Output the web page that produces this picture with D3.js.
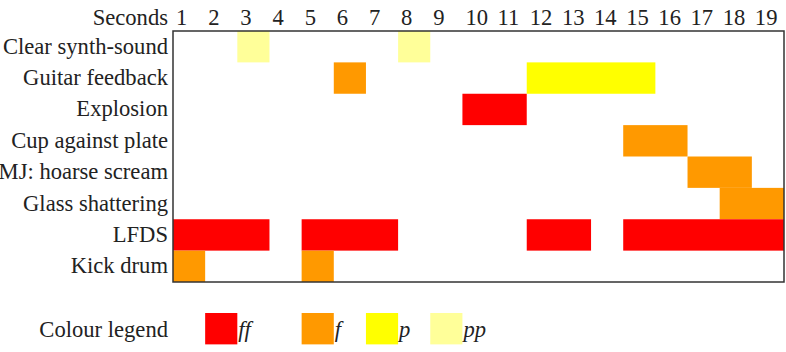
<!DOCTYPE html>
<html>
<head>
    <meta charset="UTF-8">
    <script src="https://d3js.org/d3.v7.min.js"></script>
</head>
<body style="margin:0">
    <svg width="786" height="352"></svg>
    <script>
        const seconds = d3.range(1, 20);
        const sounds = ["Clear synth-sound", "Guitar feedback", "Explosion", "Cup against plate",
                        "MJ: hoarse scream", "Glass shattering", "LFDS", "Kick drum"];
        const levels = ["ff", "f", "p", "pp"];
        const levelColours = ["#ff0000", "#ff9900", "#ffff00", "#ffff99"];
        // [sound, first second, last second, dynamic]
        const events = [
            ["Clear synth-sound", 3, 3, "pp"],
            ["Clear synth-sound", 8, 8, "pp"],
            ["Guitar feedback", 6, 6, "f"],
            ["Guitar feedback", 12, 15, "p"],
            ["Explosion", 10, 11, "ff"],
            ["Cup against plate", 15, 16, "f"],
            ["MJ: hoarse scream", 17, 18, "f"],
            ["Glass shattering", 18, 19, "f"],
            ["LFDS", 1, 3, "ff"],
            ["LFDS", 5, 7, "ff"],
            ["LFDS", 12, 13, "ff"],
            ["LFDS", 15, 19, "ff"],
            ["Kick drum", 1, 1, "f"],
            ["Kick drum", 5, 5, "f"]
        ];

        const svg = d3.select("svg");
        const plotL = 173, plotR = 784, plotT = 31, plotB = 282;

        const x = d3.scaleBand().domain(seconds).range([plotL, plotR]);
        const y = d3.scaleBand().domain(sounds).range([plotT, plotB]);
        const colour = d3.scaleOrdinal().domain(levels).range(levelColours);

        // serif label helper
        function label(sel) {
            return sel.style("font-family", '"Liberation Serif"')
                .style("font-size", "22.6px")
                .style("fill", "#222");
        }

        svg.selectAll(".cell")
            .data(events)
            .enter().append("rect")
            .attr("x", d => x(d[1]))
            .attr("y", d => y(d[0]))
            .attr("width", d => x(d[2]) + x.bandwidth() - x(d[1]))
            .attr("height", y.bandwidth())
            .attr("fill", d => colour(d[3]));

        svg.append("rect")
            .attr("x", plotL).attr("y", plotT)
            .attr("width", plotR - plotL).attr("height", plotB - plotT)
            .attr("fill", "none")
            .attr("stroke", "#333")
            .attr("stroke-width", 1.5);

        svg.selectAll(".tick")
            .data(seconds)
            .enter().append("text")
            .call(label)
            .attr("x", d => x(d) + 3)
            .attr("y", 25)
            .text(d => d);

        svg.append("text")
            .call(label)
            .attr("x", 168).attr("y", 25)
            .attr("text-anchor", "end")
            .text("Seconds");

        svg.selectAll(".row")
            .data(sounds)
            .enter().append("text")
            .call(label)
            .attr("x", 168)
            .attr("y", d => y(d) + y.bandwidth() / 2 + 7)
            .attr("text-anchor", "end")
            .text(d => d);

        // legend
        const legendCols = [2, 5, 7, 9];
        svg.append("text")
            .call(label)
            .attr("x", 168).attr("y", 337)
            .attr("text-anchor", "end")
            .text("Colour legend");

        svg.selectAll(".key")
            .data(levels)
            .enter().append("rect")
            .attr("x", (d, i) => x(legendCols[i]))
            .attr("y", 313)
            .attr("width", x.bandwidth())
            .attr("height", y.bandwidth())
            .attr("fill", d => colour(d));

        svg.selectAll(".dyn")
            .data(levels)
            .enter().append("text")
            .call(label)
            .style("font-style", "italic")
            .attr("x", (d, i) => x(legendCols[i]) + x.bandwidth() + 1)
            .attr("y", 337)
            .text(d => d);
    </script>
</body>
</html>
